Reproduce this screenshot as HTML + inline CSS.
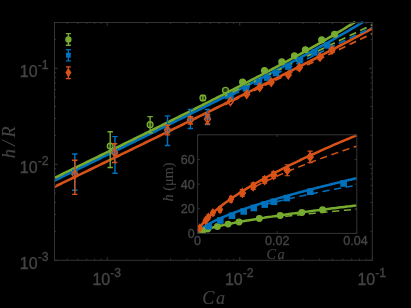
<!DOCTYPE html><html><head><meta charset="utf-8"><style>html,body{margin:0;padding:0;background:#000;}svg{display:block;font-family:"Liberation Sans",sans-serif;}text{stroke:#444;stroke-width:0.35px;}text.s{stroke-width:0.1px;}</style></head><body>
<svg width="411" height="308" viewBox="0 0 411 308">
<rect width="411" height="308" fill="#000"/>
<defs><filter id="aa" x="0" y="0" width="411" height="308" filterUnits="userSpaceOnUse"><feOffset dx="0" dy="0"/></filter></defs>
<g filter="url(#aa)">
<defs><clipPath id="cm"><rect x="54.50" y="21.30" width="318.60" height="239.00"/></clipPath><clipPath id="ci"><rect x="197.60" y="133.80" width="160.00" height="99.60"/></clipPath></defs>
<g clip-path="url(#cm)">
<path d="M54.50 186.83 L57.17 185.53 L59.84 184.24 L62.51 182.95 L65.18 181.65 L67.85 180.36 L70.52 179.06 L73.19 177.77 L75.86 176.48 L78.54 175.18 L81.21 173.89 L83.88 172.59 L86.55 171.30 L89.22 170.00 L91.89 168.71 L94.56 167.41 L97.23 166.12 L99.90 164.82 L102.57 163.52 L105.24 162.23 L107.91 160.93 L110.58 159.63 L113.25 158.34 L115.92 157.04 L118.59 155.74 L121.26 154.44 L123.94 153.15 L126.61 151.85 L129.28 150.55 L131.95 149.25 L134.62 147.95 L137.29 146.65 L139.96 145.35 L142.63 144.05 L145.30 142.75 L147.97 141.45 L150.64 140.15 L153.31 138.85 L155.98 137.55 L158.65 136.25 L161.32 134.94 L163.99 133.64 L166.66 132.34 L169.34 131.03 L172.01 129.73 L174.68 128.43 L177.35 127.12 L180.02 125.81 L182.69 124.51 L185.36 123.20 L188.03 121.89 L190.70 120.59 L193.37 119.28 L196.04 117.97 L198.71 116.66 L201.38 115.35 L204.05 114.04 L206.72 112.73 L209.39 111.42 L212.06 110.10 L214.74 108.79 L217.41 107.47 L220.08 106.16 L222.75 104.84 L225.42 103.53 L228.09 102.21 L230.76 100.89 L233.43 99.57 L236.10 98.25 L238.77 96.93 L241.44 95.61 L244.11 94.28 L246.78 92.96 L249.45 91.63 L252.12 90.30 L254.79 88.98 L257.46 87.65 L260.14 86.32 L262.81 84.98 L265.48 83.65 L268.15 82.31 L270.82 80.98 L273.49 79.64 L276.16 78.30 L278.83 76.96 L281.50 75.62 L284.17 74.27 L286.84 72.93 L289.51 71.58 L292.18 70.23 L294.85 68.87 L297.52 67.52 L300.19 66.16 L302.86 64.81 L305.54 63.44 L308.21 62.08 L310.88 60.72 L313.55 59.35 L316.22 57.98 L318.89 56.60 L321.56 55.23 L324.23 53.85 L326.90 52.46 L329.57 51.08 L332.24 49.69 L334.91 48.30 L337.58 46.90 L340.25 45.50 L342.92 44.10 L345.59 42.69 L348.26 41.28 L350.94 39.87 L353.61 38.45 L356.28 37.02 L358.95 35.60 L361.62 34.16 L364.29 32.72 L366.96 31.28 L369.63 29.83 L372.30 28.38" stroke="#d95319" stroke-width="2.60" fill="none" stroke-linecap="butt"/>
<path d="M54.50 180.55 L57.17 179.26 L59.84 177.96 L62.51 176.66 L65.18 175.36 L67.85 174.06 L70.52 172.76 L73.19 171.47 L75.86 170.17 L78.54 168.87 L81.21 167.57 L83.88 166.27 L86.55 164.97 L89.22 163.66 L91.89 162.36 L94.56 161.06 L97.23 159.76 L99.90 158.46 L102.57 157.15 L105.24 155.85 L107.91 154.55 L110.58 153.24 L113.25 151.94 L115.92 150.63 L118.59 149.33 L121.26 148.02 L123.94 146.71 L126.61 145.41 L129.28 144.10 L131.95 142.79 L134.62 141.48 L137.29 140.17 L139.96 138.86 L142.63 137.55 L145.30 136.24 L147.97 134.93 L150.64 133.62 L153.31 132.30 L155.98 130.99 L158.65 129.67 L161.32 128.36 L163.99 127.04 L166.66 125.72 L169.34 124.40 L172.01 123.08 L174.68 121.76 L177.35 120.44 L180.02 119.12 L182.69 117.79 L185.36 116.47 L188.03 115.14 L190.70 113.82 L193.37 112.49 L196.04 111.16 L198.71 109.83 L201.38 108.50 L204.05 107.16 L206.72 105.83 L209.39 104.49 L212.06 103.15 L214.74 101.81 L217.41 100.47 L220.08 99.13 L222.75 97.78 L225.42 96.44 L228.09 95.09 L230.76 93.74 L233.43 92.39 L236.10 91.03 L238.77 89.68 L241.44 88.32 L244.11 86.96 L246.78 85.59 L249.45 84.23 L252.12 82.86 L254.79 81.49 L257.46 80.11 L260.14 78.74 L262.81 77.36 L265.48 75.97 L268.15 74.59 L270.82 73.20 L273.49 71.81 L276.16 70.41 L278.83 69.01 L281.50 67.61 L284.17 66.20 L286.84 64.79 L289.51 63.38 L292.18 61.96 L294.85 60.53 L297.52 59.10 L300.19 57.67 L302.86 56.23 L305.54 54.79 L308.21 53.34 L310.88 51.88 L313.55 50.42 L316.22 48.96 L318.89 47.48 L321.56 46.00 L324.23 44.52 L326.90 43.02 L329.57 41.52 L332.24 40.01 L334.91 38.49 L337.58 36.97 L340.25 35.43 L342.92 33.89 L345.59 32.34 L348.26 30.77 L350.94 29.20 L353.61 27.61 L356.28 26.02 L358.95 24.41 L361.62 22.79 L363.06 21.90" stroke="#0072bd" stroke-width="2.60" fill="none" stroke-linecap="butt"/>
<path d="M54.50 177.89 L57.17 176.60 L59.84 175.30 L62.51 174.00 L65.18 172.70 L67.85 171.40 L70.52 170.10 L73.19 168.79 L75.86 167.49 L78.54 166.19 L81.21 164.89 L83.88 163.59 L86.55 162.28 L89.22 160.98 L91.89 159.68 L94.56 158.37 L97.23 157.07 L99.90 155.76 L102.57 154.46 L105.24 153.15 L107.91 151.84 L110.58 150.54 L113.25 149.23 L115.92 147.92 L118.59 146.61 L121.26 145.30 L123.94 143.99 L126.61 142.68 L129.28 141.37 L131.95 140.06 L134.62 138.74 L137.29 137.43 L139.96 136.11 L142.63 134.80 L145.30 133.48 L147.97 132.17 L150.64 130.85 L153.31 129.53 L155.98 128.21 L158.65 126.89 L161.32 125.57 L163.99 124.24 L166.66 122.92 L169.34 121.59 L172.01 120.27 L174.68 118.94 L177.35 117.61 L180.02 116.28 L182.69 114.95 L185.36 113.62 L188.03 112.29 L190.70 110.95 L193.37 109.61 L196.04 108.28 L198.71 106.94 L201.38 105.59 L204.05 104.25 L206.72 102.91 L209.39 101.56 L212.06 100.21 L214.74 98.86 L217.41 97.51 L220.08 96.15 L222.75 94.80 L225.42 93.44 L228.09 92.08 L230.76 90.71 L233.43 89.35 L236.10 87.98 L238.77 86.61 L241.44 85.23 L244.11 83.85 L246.78 82.47 L249.45 81.09 L252.12 79.71 L254.79 78.32 L257.46 76.92 L260.14 75.53 L262.81 74.13 L265.48 72.72 L268.15 71.32 L270.82 69.90 L273.49 68.49 L276.16 67.07 L278.83 65.64 L281.50 64.21 L284.17 62.78 L286.84 61.34 L289.51 59.89 L292.18 58.44 L294.85 56.99 L297.52 55.53 L300.19 54.06 L302.86 52.58 L305.54 51.10 L308.21 49.62 L310.88 48.12 L313.55 46.62 L316.22 45.11 L318.89 43.59 L321.56 42.06 L324.23 40.53 L326.90 38.98 L329.57 37.42 L332.24 35.86 L334.91 34.28 L337.58 32.70 L340.25 31.10 L342.92 29.49 L345.59 27.86 L348.26 26.23 L350.94 24.58 L353.61 22.91 L355.21 21.90" stroke="#77ac30" stroke-width="2.60" fill="none" stroke-linecap="butt"/>
<path d="M225.00 95.86 L227.50 94.65 L229.99 93.45 L232.49 92.24 L234.99 91.04 L237.48 89.83 L239.98 88.63 L242.48 87.42 L244.97 86.21 L247.47 85.01 L249.97 83.80 L252.46 82.60 L254.96 81.39 L257.46 80.19 L259.95 78.98 L262.45 77.78 L264.95 76.57 L267.44 75.36 L269.94 74.16 L272.44 72.95 L274.93 71.75 L277.43 70.54 L279.93 69.34 L282.42 68.13 L284.92 66.93 L287.42 65.72 L289.91 64.51 L292.41 63.31 L294.91 62.10 L297.40 60.90 L299.90 59.69 L302.39 58.49 L304.89 57.28 L307.39 56.07 L309.88 54.87 L312.38 53.66 L314.88 52.46 L317.37 51.25 L319.87 50.05 L322.37 48.84 L324.86 47.64 L327.36 46.43 L329.86 45.22 L332.35 44.02 L334.85 42.81 L337.35 41.61 L339.84 40.40 L342.34 39.20 L344.84 37.99 L347.33 36.78 L349.83 35.58 L352.33 34.37 L354.82 33.17 L357.32 31.96 L359.82 30.76 L362.31 29.55 L364.81 28.35 L367.31 27.14 L369.80 25.93 L372.30 24.73" stroke="#77ac30" stroke-width="1.75" fill="none" stroke-dasharray="7.2 4.6" stroke-dashoffset="3.3"/>
<path d="M225.00 98.47 L227.50 97.26 L229.99 96.06 L232.49 94.85 L234.99 93.64 L237.48 92.44 L239.98 91.23 L242.48 90.03 L244.97 88.82 L247.47 87.62 L249.97 86.41 L252.46 85.20 L254.96 84.00 L257.46 82.79 L259.95 81.59 L262.45 80.38 L264.95 79.18 L267.44 77.97 L269.94 76.77 L272.44 75.56 L274.93 74.35 L277.43 73.15 L279.93 71.94 L282.42 70.74 L284.92 69.53 L287.42 68.33 L289.91 67.12 L292.41 65.91 L294.91 64.71 L297.40 63.50 L299.90 62.30 L302.39 61.09 L304.89 59.89 L307.39 58.68 L309.88 57.48 L312.38 56.27 L314.88 55.06 L317.37 53.86 L319.87 52.65 L322.37 51.45 L324.86 50.24 L327.36 49.04 L329.86 47.83 L332.35 46.62 L334.85 45.42 L337.35 44.21 L339.84 43.01 L342.34 41.80 L344.84 40.60 L347.33 39.39 L349.83 38.19 L352.33 36.98 L354.82 35.77 L357.32 34.57 L359.82 33.36 L362.31 32.16 L364.81 30.95 L367.31 29.75 L369.80 28.54 L372.30 27.34" stroke="#0072bd" stroke-width="1.75" fill="none" stroke-dasharray="7.2 4.6" stroke-dashoffset="3.3"/>
<path d="M225.00 104.61 L227.50 103.41 L229.99 102.20 L232.49 101.00 L234.99 99.79 L237.48 98.59 L239.98 97.38 L242.48 96.17 L244.97 94.97 L247.47 93.76 L249.97 92.56 L252.46 91.35 L254.96 90.15 L257.46 88.94 L259.95 87.74 L262.45 86.53 L264.95 85.32 L267.44 84.12 L269.94 82.91 L272.44 81.71 L274.93 80.50 L277.43 79.30 L279.93 78.09 L282.42 76.88 L284.92 75.68 L287.42 74.47 L289.91 73.27 L292.41 72.06 L294.91 70.86 L297.40 69.65 L299.90 68.45 L302.39 67.24 L304.89 66.03 L307.39 64.83 L309.88 63.62 L312.38 62.42 L314.88 61.21 L317.37 60.01 L319.87 58.80 L322.37 57.59 L324.86 56.39 L327.36 55.18 L329.86 53.98 L332.35 52.77 L334.85 51.57 L337.35 50.36 L339.84 49.16 L342.34 47.95 L344.84 46.74 L347.33 45.54 L349.83 44.33 L352.33 43.13 L354.82 41.92 L357.32 40.72 L359.82 39.51 L362.31 38.31 L364.81 37.10 L367.31 35.89 L369.80 34.69 L372.30 33.48" stroke="#d95319" stroke-width="1.75" fill="none" stroke-dasharray="7.2 4.6" stroke-dashoffset="3.3"/>
<path d="M110.20 131.80 V167.50 M107.50 131.80 H112.90 M107.50 167.50 H112.90" stroke="#77ac30" stroke-width="1.40" fill="none"/>
<circle cx="110.20" cy="146.10" r="2.90" stroke="#77ac30" stroke-width="1.35" fill="#77ac30" fill-opacity="0.3"/>
<path d="M150.10 116.60 V132.80 M147.40 116.60 H152.80 M147.40 132.80 H152.80" stroke="#77ac30" stroke-width="1.40" fill="none"/>
<circle cx="150.10" cy="124.70" r="2.90" stroke="#77ac30" stroke-width="1.35" fill="#77ac30" fill-opacity="0.3"/>
<path d="M202.90 95.50 V100.50 M200.20 95.50 H205.60 M200.20 100.50 H205.60" stroke="#77ac30" stroke-width="1.40" fill="none"/>
<circle cx="202.90" cy="98.00" r="2.90" stroke="#77ac30" stroke-width="1.35" fill="#77ac30" fill-opacity="0.3"/>
<circle cx="225.50" cy="90.30" r="2.90" stroke="#77ac30" stroke-width="1.35" fill="#77ac30" fill-opacity="0.3"/>
<circle cx="242.60" cy="82.00" r="2.90" stroke="#77ac30" stroke-width="1.35" fill="#77ac30" fill-opacity="1"/>
<circle cx="264.50" cy="70.50" r="2.90" stroke="#77ac30" stroke-width="1.35" fill="#77ac30" fill-opacity="1"/>
<circle cx="281.80" cy="61.90" r="2.90" stroke="#77ac30" stroke-width="1.35" fill="#77ac30" fill-opacity="1"/>
<circle cx="294.50" cy="55.70" r="2.90" stroke="#77ac30" stroke-width="1.35" fill="#77ac30" fill-opacity="1"/>
<circle cx="305.40" cy="49.70" r="2.90" stroke="#77ac30" stroke-width="1.35" fill="#77ac30" fill-opacity="1"/>
<circle cx="321.70" cy="39.90" r="2.90" stroke="#77ac30" stroke-width="1.35" fill="#77ac30" fill-opacity="1"/>
<circle cx="334.60" cy="34.20" r="2.90" stroke="#77ac30" stroke-width="1.35" fill="#77ac30" fill-opacity="1"/>
<path d="M74.80 154.00 V190.30 M72.10 154.00 H77.50 M72.10 190.30 H77.50" stroke="#0072bd" stroke-width="1.40" fill="none"/>
<rect x="72.70" y="170.10" width="4.20" height="4.20" fill="#0072bd" stroke="#0072bd" stroke-width="1.40"/>
<path d="M115.00 136.60 V173.20 M112.30 136.60 H117.70 M112.30 173.20 H117.70" stroke="#0072bd" stroke-width="1.40" fill="none"/>
<rect x="112.90" y="149.90" width="4.20" height="4.20" fill="#0072bd" stroke="#0072bd" stroke-width="1.40"/>
<path d="M167.50 115.90 V145.50 M164.80 115.90 H170.20 M164.80 145.50 H170.20" stroke="#0072bd" stroke-width="1.40" fill="none"/>
<rect x="165.40" y="128.60" width="4.20" height="4.20" fill="#0072bd" stroke="#0072bd" stroke-width="1.40"/>
<path d="M190.40 109.40 V128.50 M187.70 109.40 H193.10 M187.70 128.50 H193.10" stroke="#0072bd" stroke-width="1.40" fill="none"/>
<rect x="188.30" y="116.90" width="4.20" height="4.20" fill="#0072bd" stroke="#0072bd" stroke-width="1.40"/>
<path d="M207.50 109.40 V124.50 M204.80 109.40 H210.20 M204.80 124.50 H210.20" stroke="#0072bd" stroke-width="1.40" fill="none"/>
<rect x="205.40" y="114.90" width="4.20" height="4.20" fill="#0072bd" stroke="#0072bd" stroke-width="1.40"/>
<rect x="228.00" y="93.97" width="5.00" height="5.00" fill="#0072bd" stroke="#0072bd" stroke-width="1.40"/>
<rect x="243.50" y="86.09" width="5.00" height="5.00" fill="#0072bd" stroke="#0072bd" stroke-width="1.40"/>
<rect x="256.50" y="79.42" width="5.00" height="5.00" fill="#0072bd" stroke="#0072bd" stroke-width="1.40"/>
<rect x="264.70" y="75.18" width="5.00" height="5.00" fill="#0072bd" stroke="#0072bd" stroke-width="1.40"/>
<rect x="273.50" y="70.60" width="5.00" height="5.00" fill="#0072bd" stroke="#0072bd" stroke-width="1.40"/>
<rect x="285.80" y="64.12" width="5.00" height="5.00" fill="#0072bd" stroke="#0072bd" stroke-width="1.40"/>
<rect x="297.50" y="57.87" width="5.00" height="5.00" fill="#0072bd" stroke="#0072bd" stroke-width="1.40"/>
<rect x="311.90" y="50.05" width="5.00" height="5.00" fill="#0072bd" stroke="#0072bd" stroke-width="1.40"/>
<rect x="324.80" y="42.90" width="5.00" height="5.00" fill="#0072bd" stroke="#0072bd" stroke-width="1.40"/>
<path d="M74.80 160.20 V194.40 M72.10 160.20 H77.50 M72.10 194.40 H77.50" stroke="#d95319" stroke-width="1.40" fill="none"/>
<path d="M74.80 170.20 L77.80 174.30 L74.80 178.40 L71.80 174.30 Z" fill="none" stroke="#d95319" stroke-width="1.40" stroke-linejoin="miter"/>
<path d="M114.60 143.80 V162.50 M111.90 143.80 H117.30 M111.90 162.50 H117.30" stroke="#d95319" stroke-width="1.40" fill="none"/>
<path d="M114.60 148.60 L117.60 152.70 L114.60 156.80 L111.60 152.70 Z" fill="none" stroke="#d95319" stroke-width="1.40" stroke-linejoin="miter"/>
<path d="M167.50 125.20 V134.90 M164.80 125.20 H170.20 M164.80 134.90 H170.20" stroke="#d95319" stroke-width="1.40" fill="none"/>
<path d="M167.50 125.90 L170.50 130.00 L167.50 134.10 L164.50 130.00 Z" fill="none" stroke="#d95319" stroke-width="1.40" stroke-linejoin="miter"/>
<path d="M190.40 116.70 V124.00 M187.70 116.70 H193.10 M187.70 124.00 H193.10" stroke="#d95319" stroke-width="1.40" fill="none"/>
<path d="M190.40 115.80 L193.40 119.90 L190.40 124.00 L187.40 119.90 Z" fill="none" stroke="#d95319" stroke-width="1.40" stroke-linejoin="miter"/>
<path d="M207.50 114.20 V124.00 M204.80 114.20 H210.20 M204.80 124.00 H210.20" stroke="#d95319" stroke-width="1.40" fill="none"/>
<path d="M207.50 115.00 L210.50 119.10 L207.50 123.20 L204.50 119.10 Z" fill="none" stroke="#d95319" stroke-width="1.40" stroke-linejoin="miter"/>
<path d="M230.40 97.50 L233.30 101.50 L230.40 105.50 L227.50 101.50 Z" fill="none" stroke="#d95319" stroke-width="1.40" stroke-linejoin="miter"/>
<path d="M246.70 90.20 L249.60 94.20 L246.70 98.20 L243.80 94.20 Z" fill="#d95319" stroke="#d95319" stroke-width="1.40" stroke-linejoin="miter"/>
<path d="M259.70 83.20 L262.60 87.20 L259.70 91.20 L256.80 87.20 Z" fill="#d95319" stroke="#d95319" stroke-width="1.40" stroke-linejoin="miter"/>
<path d="M271.20 78.20 L274.10 82.20 L271.20 86.20 L268.30 82.20 Z" fill="#d95319" stroke="#d95319" stroke-width="1.40" stroke-linejoin="miter"/>
<path d="M288.30 70.90 L291.20 74.90 L288.30 78.90 L285.40 74.90 Z" fill="#d95319" stroke="#d95319" stroke-width="1.40" stroke-linejoin="miter"/>
<path d="M299.40 63.50 L302.30 67.50 L299.40 71.50 L296.50 67.50 Z" fill="#d95319" stroke="#d95319" stroke-width="1.40" stroke-linejoin="miter"/>
<path d="M320.00 53.00 L322.90 57.00 L320.00 61.00 L317.10 57.00 Z" fill="#d95319" stroke="#d95319" stroke-width="1.40" stroke-linejoin="miter"/>
<path d="M332.00 46.00 L334.90 50.00 L332.00 54.00 L329.10 50.00 Z" fill="#d95319" stroke="#d95319" stroke-width="1.40" stroke-linejoin="miter"/>
</g>
<path d="M68.40 33.60 V45.20 M65.90 33.60 H70.90 M65.90 45.20 H70.90" stroke="#77ac30" stroke-width="1.40" fill="none"/>
<circle cx="68.40" cy="39.50" r="2.50" stroke="#77ac30" stroke-width="1.35" fill="#77ac30" fill-opacity="1"/>
<path d="M68.40 49.60 V60.90 M65.90 49.60 H70.90 M65.90 60.90 H70.90" stroke="#0072bd" stroke-width="1.40" fill="none"/>
<rect x="66.70" y="53.50" width="3.40" height="3.40" fill="#0072bd" stroke="#0072bd" stroke-width="1.40"/>
<path d="M68.40 66.90 V78.60 M65.90 66.90 H70.90 M65.90 78.60 H70.90" stroke="#d95319" stroke-width="1.40" fill="none"/>
<path d="M68.40 69.30 L70.60 72.60 L68.40 75.90 L66.20 72.60 Z" fill="#d95319" stroke="#d95319" stroke-width="1.40" stroke-linejoin="miter"/>
<rect x="54.50" y="22.50" width="317.80" height="237.80" fill="none" stroke="#343434" stroke-width="1"/>
<path d="M54.50 260.30 v-1.70 M54.50 22.50 v1.70 M67.34 260.30 v-1.70 M67.34 22.50 v1.70 M77.84 260.30 v-1.70 M77.84 22.50 v1.70 M86.71 260.30 v-1.70 M86.71 22.50 v1.70 M94.40 260.30 v-1.70 M94.40 22.50 v1.70 M101.17 260.30 v-1.70 M101.17 22.50 v1.70 M107.24 260.30 v-3.20 M107.24 22.50 v3.20 M147.13 260.30 v-1.70 M147.13 22.50 v1.70 M170.47 260.30 v-1.70 M170.47 22.50 v1.70 M187.03 260.30 v-1.70 M187.03 22.50 v1.70 M199.87 260.30 v-1.70 M199.87 22.50 v1.70 M210.37 260.30 v-1.70 M210.37 22.50 v1.70 M219.24 260.30 v-1.70 M219.24 22.50 v1.70 M226.93 260.30 v-1.70 M226.93 22.50 v1.70 M233.71 260.30 v-1.70 M233.71 22.50 v1.70 M239.77 260.30 v-3.20 M239.77 22.50 v3.20 M279.67 260.30 v-1.70 M279.67 22.50 v1.70 M303.00 260.30 v-1.70 M303.00 22.50 v1.70 M319.56 260.30 v-1.70 M319.56 22.50 v1.70 M332.40 260.30 v-1.70 M332.40 22.50 v1.70 M342.90 260.30 v-1.70 M342.90 22.50 v1.70 M351.77 260.30 v-1.70 M351.77 22.50 v1.70 M359.46 260.30 v-1.70 M359.46 22.50 v1.70 M366.24 260.30 v-1.70 M366.24 22.50 v1.70 M372.30 260.30 v-3.20 M372.30 22.50 v3.20 M54.50 260.30 h3.20 M372.30 260.30 h-3.20 M54.50 231.40 h1.70 M372.30 231.40 h-1.70 M54.50 214.50 h1.70 M372.30 214.50 h-1.70 M54.50 202.50 h1.70 M372.30 202.50 h-1.70 M54.50 193.20 h1.70 M372.30 193.20 h-1.70 M54.50 185.60 h1.70 M372.30 185.60 h-1.70 M54.50 179.17 h1.70 M372.30 179.17 h-1.70 M54.50 173.60 h1.70 M372.30 173.60 h-1.70 M54.50 168.69 h1.70 M372.30 168.69 h-1.70 M54.50 164.30 h3.20 M372.30 164.30 h-3.20 M54.50 135.40 h1.70 M372.30 135.40 h-1.70 M54.50 118.50 h1.70 M372.30 118.50 h-1.70 M54.50 106.50 h1.70 M372.30 106.50 h-1.70 M54.50 97.20 h1.70 M372.30 97.20 h-1.70 M54.50 89.60 h1.70 M372.30 89.60 h-1.70 M54.50 83.17 h1.70 M372.30 83.17 h-1.70 M54.50 77.61 h1.70 M372.30 77.61 h-1.70 M54.50 72.70 h1.70 M372.30 72.70 h-1.70 M54.50 68.30 h3.20 M372.30 68.30 h-3.20 M54.50 39.40 h1.70 M372.30 39.40 h-1.70 M54.50 22.50 h1.70 M372.30 22.50 h-1.70" stroke="#343434" stroke-width="1" fill="none"/>
<text x="106.74" y="284.60" fill="#444" font-size="16.0" text-anchor="middle">10<tspan font-size="12.2" dy="-7.6">-3</tspan></text>
<text x="48.50" y="268.90" fill="#444" font-size="16.0" text-anchor="end">10<tspan font-size="12.2" dy="-8.4">-3</tspan></text>
<text x="239.27" y="284.60" fill="#444" font-size="16.0" text-anchor="middle">10<tspan font-size="12.2" dy="-7.6">-2</tspan></text>
<text x="48.50" y="172.90" fill="#444" font-size="16.0" text-anchor="end">10<tspan font-size="12.2" dy="-8.4">-2</tspan></text>
<text x="371.80" y="284.60" fill="#444" font-size="16.0" text-anchor="middle">10<tspan font-size="12.2" dy="-7.6">-1</tspan></text>
<text x="48.50" y="76.90" fill="#444" font-size="16.0" text-anchor="end">10<tspan font-size="12.2" dy="-8.4">-1</tspan></text>
<text x="214.40" y="304.30" fill="#444" class="s" font-family="Liberation Serif" font-style="italic" font-size="18.2" text-anchor="middle" letter-spacing="1.6">Ca</text>
<text transform="translate(14.60 140.60) rotate(-90)" fill="#444" class="s" font-family="Liberation Serif" font-style="italic" font-size="18.2" text-anchor="middle" letter-spacing="3.4">h/R</text>
<g clip-path="url(#ci)">
<path d="M285.22 216.41 L285.48 216.38 L285.74 216.35 L286.00 216.32 L286.26 216.29 L286.52 216.26 L286.78 216.23 L287.04 216.20 L287.29 216.17 L287.55 216.14 L287.81 216.11 L288.07 216.08 L288.33 216.05 L288.59 216.02 L288.85 215.99 L289.11 215.96 L289.37 215.93 L289.63 215.90 L289.89 215.87 L290.15 215.84 L290.41 215.81 L290.67 215.78 L290.93 215.75 L291.18 215.72 L291.44 215.69 L291.70 215.66 L291.96 215.63 L292.22 215.60 L292.48 215.57 L292.74 215.54 L293.00 215.51 L293.26 215.49 L293.52 215.46 L293.78 215.43 L294.04 215.40 L294.30 215.37 L294.56 215.34 L294.82 215.31 L295.08 215.28 L295.33 215.25 L295.59 215.22 L295.85 215.20 L296.11 215.17 L296.37 215.14 L296.63 215.11 L296.89 215.08 L297.15 215.05 L297.41 215.02 L297.67 215.00 L297.93 214.97 L298.19 214.94 L298.45 214.91 L298.71 214.88 L298.97 214.85 L299.22 214.83 L299.48 214.80 L299.74 214.77 L300.00 214.74 L300.26 214.71 L300.52 214.68 L300.78 214.66 L301.04 214.63 L301.30 214.60 L301.56 214.57 L301.82 214.54 L302.08 214.52 L302.34 214.49 L302.60 214.46 L302.86 214.43 L303.11 214.40 L303.37 214.38 L303.63 214.35 L303.89 214.32 L304.15 214.29 L304.41 214.27 L304.67 214.24 L304.93 214.21 L305.19 214.18 L305.45 214.16 L305.71 214.13 L305.97 214.10 L306.23 214.07 L306.49 214.05 L306.75 214.02 L307.01 213.99 L307.26 213.96 L307.52 213.94 L307.78 213.91 L308.04 213.88 L308.30 213.85 L308.56 213.83 L308.82 213.80 L309.08 213.77 L309.34 213.75 L309.60 213.72 L309.86 213.69 L310.12 213.66 L310.38 213.64 L310.64 213.61 L310.90 213.58 L311.15 213.56 L311.41 213.53 L311.67 213.50 L311.93 213.48 L312.19 213.45 L312.45 213.42 L312.71 213.40 L312.97 213.37 L313.23 213.34 L313.49 213.32 L313.75 213.29 L314.01 213.26 L314.27 213.24 L314.53 213.21 L314.79 213.18 L315.04 213.16 L315.30 213.13 L315.56 213.10 L315.82 213.08 L316.08 213.05 L316.34 213.03 L316.60 213.00 L316.86 212.97 L317.12 212.95 L317.38 212.92 L317.64 212.89 L317.90 212.87 L318.16 212.84 L318.42 212.82 L318.68 212.79 L318.94 212.76 L319.19 212.74 L319.45 212.71 L319.71 212.69 L319.97 212.66 L320.23 212.63 L320.49 212.61 L320.75 212.58 L321.01 212.56 L321.27 212.53 L321.53 212.51 L321.79 212.48 L322.05 212.45 L322.31 212.43 L322.57 212.40 L322.83 212.38 L323.08 212.35 L323.34 212.33 L323.60 212.30 L323.86 212.28 L324.12 212.25 L324.38 212.22 L324.64 212.20 L324.90 212.17 L325.16 212.15 L325.42 212.12 L325.68 212.10 L325.94 212.07 L326.20 212.05 L326.46 212.02 L326.72 212.00 L326.97 211.97 L327.23 211.95 L327.49 211.92 L327.75 211.90 L328.01 211.87 L328.27 211.85 L328.53 211.82 L328.79 211.80 L329.05 211.77 L329.31 211.75 L329.57 211.72 L329.83 211.70 L330.09 211.67 L330.35 211.65 L330.61 211.62 L330.87 211.60 L331.12 211.57 L331.38 211.55 L331.64 211.52 L331.90 211.50 L332.16 211.47 L332.42 211.45 L332.68 211.42 L332.94 211.40 L333.20 211.37 L333.46 211.35 L333.72 211.32 L333.98 211.30 L334.24 211.27 L334.50 211.25 L334.76 211.23 L335.01 211.20 L335.27 211.18 L335.53 211.15 L335.79 211.13 L336.05 211.10 L336.31 211.08 L336.57 211.06 L336.83 211.03 L337.09 211.01 L337.35 210.98 L337.61 210.96 L337.87 210.93 L338.13 210.91 L338.39 210.89 L338.65 210.86 L338.90 210.84 L339.16 210.81 L339.42 210.79 L339.68 210.76 L339.94 210.74 L340.20 210.72 L340.46 210.69 L340.72 210.67 L340.98 210.64 L341.24 210.62 L341.50 210.60 L341.76 210.57 L342.02 210.55 L342.28 210.53 L342.54 210.50 L342.80 210.48 L343.05 210.45 L343.31 210.43 L343.57 210.41 L343.83 210.38 L344.09 210.36 L344.35 210.34 L344.61 210.31 L344.87 210.29 L345.13 210.26 L345.39 210.24 L345.65 210.22 L345.91 210.19 L346.17 210.17 L346.43 210.15 L346.69 210.12 L346.94 210.10 L347.20 210.08 L347.46 210.05 L347.72 210.03 L347.98 210.01 L348.24 209.98 L348.50 209.96 L348.76 209.94 L349.02 209.91 L349.28 209.89 L349.54 209.87 L349.80 209.84 L350.06 209.82 L350.32 209.80 L350.58 209.77 L350.83 209.75 L351.09 209.73 L351.35 209.70 L351.61 209.68 L351.87 209.66 L352.13 209.63 L352.39 209.61 L352.65 209.59 L352.91 209.57 L353.17 209.54 L353.43 209.52 L353.69 209.50 L353.95 209.47 L354.21 209.45 L354.47 209.43 L354.73 209.41 L354.98 209.38 L355.24 209.36 L355.50 209.34 L355.76 209.31 L356.02 209.29 L356.28 209.27 L356.54 209.25 L356.80 209.22" stroke="#77ac30" stroke-width="1.50" fill="none" stroke-dasharray="7.2 4.6" stroke-dashoffset="35.46"/>
<path d="M197.60 233.40 L199.21 232.09 L200.82 231.33 L202.42 230.68 L204.03 230.11 L205.64 229.58 L207.25 229.09 L208.86 228.62 L210.46 228.17 L212.07 227.75 L213.68 227.33 L215.29 226.94 L216.90 226.55 L218.51 226.18 L220.11 225.81 L221.72 225.45 L223.33 225.10 L224.94 224.76 L226.55 224.42 L228.15 224.10 L229.76 223.77 L231.37 223.45 L232.98 223.14 L234.59 222.83 L236.19 222.53 L237.80 222.23 L239.41 221.93 L241.02 221.64 L242.63 221.35 L244.23 221.07 L245.84 220.78 L247.45 220.50 L249.06 220.23 L250.67 219.96 L252.27 219.69 L253.88 219.42 L255.49 219.15 L257.10 218.89 L258.71 218.63 L260.32 218.37 L261.92 218.12 L263.53 217.86 L265.14 217.61 L266.75 217.36 L268.36 217.11 L269.96 216.87 L271.57 216.62 L273.18 216.38 L274.79 216.14 L276.40 215.90 L278.00 215.66 L279.61 215.43 L281.22 215.19 L282.83 214.96 L284.44 214.73 L286.04 214.50 L287.65 214.27 L289.26 214.05 L290.87 213.82 L292.48 213.60 L294.08 213.37 L295.69 213.15 L297.30 212.93 L298.91 212.71 L300.52 212.49 L302.13 212.27 L303.73 212.06 L305.34 211.84 L306.95 211.63 L308.56 211.42 L310.17 211.20 L311.77 210.99 L313.38 210.78 L314.99 210.57 L316.60 210.37 L318.21 210.16 L319.81 209.95 L321.42 209.75 L323.03 209.54 L324.64 209.34 L326.25 209.14 L327.85 208.94 L329.46 208.74 L331.07 208.53 L332.68 208.34 L334.29 208.14 L335.89 207.94 L337.50 207.74 L339.11 207.55 L340.72 207.35 L342.33 207.16 L343.94 206.96 L345.54 206.77 L347.15 206.58 L348.76 206.38 L350.37 206.19 L351.98 206.00 L353.58 205.81 L355.19 205.62 L356.80 205.43" stroke="#77ac30" stroke-width="2.50" fill="none"/>
<path d="M265.47 204.50 L265.75 204.43 L266.03 204.35 L266.31 204.28 L266.59 204.21 L266.87 204.14 L267.15 204.06 L267.42 203.99 L267.70 203.92 L267.98 203.85 L268.26 203.77 L268.54 203.70 L268.82 203.63 L269.10 203.56 L269.38 203.49 L269.66 203.42 L269.94 203.34 L270.22 203.27 L270.50 203.20 L270.78 203.13 L271.06 203.06 L271.33 202.99 L271.61 202.92 L271.89 202.85 L272.17 202.78 L272.45 202.71 L272.73 202.64 L273.01 202.57 L273.29 202.50 L273.57 202.43 L273.85 202.36 L274.13 202.29 L274.41 202.22 L274.69 202.15 L274.97 202.08 L275.24 202.01 L275.52 201.94 L275.80 201.87 L276.08 201.81 L276.36 201.74 L276.64 201.67 L276.92 201.60 L277.20 201.53 L277.48 201.46 L277.76 201.39 L278.04 201.33 L278.32 201.26 L278.60 201.19 L278.88 201.12 L279.16 201.06 L279.43 200.99 L279.71 200.92 L279.99 200.85 L280.27 200.79 L280.55 200.72 L280.83 200.65 L281.11 200.58 L281.39 200.52 L281.67 200.45 L281.95 200.38 L282.23 200.32 L282.51 200.25 L282.79 200.19 L283.07 200.12 L283.34 200.05 L283.62 199.99 L283.90 199.92 L284.18 199.86 L284.46 199.79 L284.74 199.72 L285.02 199.66 L285.30 199.59 L285.58 199.53 L285.86 199.46 L286.14 199.40 L286.42 199.33 L286.70 199.27 L286.98 199.20 L287.25 199.14 L287.53 199.07 L287.81 199.01 L288.09 198.94 L288.37 198.88 L288.65 198.81 L288.93 198.75 L289.21 198.69 L289.49 198.62 L289.77 198.56 L290.05 198.49 L290.33 198.43 L290.61 198.37 L290.89 198.30 L291.16 198.24 L291.44 198.18 L291.72 198.11 L292.00 198.05 L292.28 197.99 L292.56 197.92 L292.84 197.86 L293.12 197.80 L293.40 197.73 L293.68 197.67 L293.96 197.61 L294.24 197.55 L294.52 197.48 L294.80 197.42 L295.08 197.36 L295.35 197.30 L295.63 197.23 L295.91 197.17 L296.19 197.11 L296.47 197.05 L296.75 196.99 L297.03 196.92 L297.31 196.86 L297.59 196.80 L297.87 196.74 L298.15 196.68 L298.43 196.62 L298.71 196.56 L298.99 196.49 L299.26 196.43 L299.54 196.37 L299.82 196.31 L300.10 196.25 L300.38 196.19 L300.66 196.13 L300.94 196.07 L301.22 196.01 L301.50 195.95 L301.78 195.89 L302.06 195.83 L302.34 195.77 L302.62 195.71 L302.90 195.64 L303.17 195.58 L303.45 195.52 L303.73 195.46 L304.01 195.40 L304.29 195.35 L304.57 195.29 L304.85 195.23 L305.13 195.17 L305.41 195.11 L305.69 195.05 L305.97 194.99 L306.25 194.93 L306.53 194.87 L306.81 194.81 L307.08 194.75 L307.36 194.69 L307.64 194.63 L307.92 194.57 L308.20 194.52 L308.48 194.46 L308.76 194.40 L309.04 194.34 L309.32 194.28 L309.60 194.22 L309.88 194.16 L310.16 194.11 L310.44 194.05 L310.72 193.99 L311.00 193.93 L311.27 193.87 L311.55 193.81 L311.83 193.76 L312.11 193.70 L312.39 193.64 L312.67 193.58 L312.95 193.53 L313.23 193.47 L313.51 193.41 L313.79 193.35 L314.07 193.30 L314.35 193.24 L314.63 193.18 L314.91 193.12 L315.18 193.07 L315.46 193.01 L315.74 192.95 L316.02 192.90 L316.30 192.84 L316.58 192.78 L316.86 192.73 L317.14 192.67 L317.42 192.61 L317.70 192.56 L317.98 192.50 L318.26 192.44 L318.54 192.39 L318.82 192.33 L319.09 192.27 L319.37 192.22 L319.65 192.16 L319.93 192.11 L320.21 192.05 L320.49 191.99 L320.77 191.94 L321.05 191.88 L321.33 191.83 L321.61 191.77 L321.89 191.71 L322.17 191.66 L322.45 191.60 L322.73 191.55 L323.00 191.49 L323.28 191.44 L323.56 191.38 L323.84 191.33 L324.12 191.27 L324.40 191.22 L324.68 191.16 L324.96 191.11 L325.24 191.05 L325.52 191.00 L325.80 190.94 L326.08 190.89 L326.36 190.83 L326.64 190.78 L326.92 190.72 L327.19 190.67 L327.47 190.61 L327.75 190.56 L328.03 190.51 L328.31 190.45 L328.59 190.40 L328.87 190.34 L329.15 190.29 L329.43 190.23 L329.71 190.18 L329.99 190.13 L330.27 190.07 L330.55 190.02 L330.83 189.96 L331.10 189.91 L331.38 189.86 L331.66 189.80 L331.94 189.75 L332.22 189.70 L332.50 189.64 L332.78 189.59 L333.06 189.54 L333.34 189.48 L333.62 189.43 L333.90 189.38 L334.18 189.32 L334.46 189.27 L334.74 189.22 L335.01 189.16 L335.29 189.11 L335.57 189.06 L335.85 189.01 L336.13 188.95 L336.41 188.90 L336.69 188.85 L336.97 188.79 L337.25 188.74 L337.53 188.69 L337.81 188.64 L338.09 188.58 L338.37 188.53 L338.65 188.48 L338.92 188.43 L339.20 188.38 L339.48 188.32 L339.76 188.27 L340.04 188.22 L340.32 188.17 L340.60 188.12 L340.88 188.06 L341.16 188.01 L341.44 187.96 L341.72 187.91 L342.00 187.86 L342.28 187.80 L342.56 187.75 L342.84 187.70 L343.11 187.65 L343.39 187.60 L343.67 187.55 L343.95 187.50 L344.23 187.44 L344.51 187.39 L344.79 187.34 L345.07 187.29 L345.35 187.24 L345.63 187.19 L345.91 187.14 L346.19 187.09 L346.47 187.03 L346.75 186.98 L347.02 186.93 L347.30 186.88 L347.58 186.83 L347.86 186.78 L348.14 186.73 L348.42 186.68 L348.70 186.63 L348.98 186.58 L349.26 186.53 L349.54 186.48 L349.82 186.43 L350.10 186.38 L350.38 186.33 L350.66 186.28 L350.93 186.23 L351.21 186.18 L351.49 186.13 L351.77 186.08 L352.05 186.03 L352.33 185.98 L352.61 185.93 L352.89 185.88 L353.17 185.83 L353.45 185.78 L353.73 185.73 L354.01 185.68 L354.29 185.63 L354.57 185.58 L354.84 185.53 L355.12 185.48 L355.40 185.43 L355.68 185.38 L355.96 185.33 L356.24 185.28 L356.52 185.23 L356.80 185.18" stroke="#0072bd" stroke-width="1.50" fill="none" stroke-dasharray="7.2 4.6" stroke-dashoffset="24.19"/>
<path d="M197.60 233.40 L199.21 230.82 L200.82 229.30 L202.42 228.03 L204.03 226.90 L205.64 225.86 L207.25 224.88 L208.86 223.96 L210.46 223.08 L212.07 222.24 L213.68 221.43 L215.29 220.64 L216.90 219.88 L218.51 219.14 L220.11 218.41 L221.72 217.71 L223.33 217.02 L224.94 216.34 L226.55 215.68 L228.15 215.03 L229.76 214.39 L231.37 213.76 L232.98 213.14 L234.59 212.53 L236.19 211.93 L237.80 211.34 L239.41 210.76 L241.02 210.18 L242.63 209.61 L244.23 209.05 L245.84 208.49 L247.45 207.94 L249.06 207.40 L250.67 206.86 L252.27 206.32 L253.88 205.80 L255.49 205.27 L257.10 204.75 L258.71 204.24 L260.32 203.73 L261.92 203.23 L263.53 202.72 L265.14 202.23 L266.75 201.73 L268.36 201.25 L269.96 200.76 L271.57 200.28 L273.18 199.80 L274.79 199.33 L276.40 198.85 L278.00 198.39 L279.61 197.92 L281.22 197.46 L282.83 197.00 L284.44 196.54 L286.04 196.09 L287.65 195.64 L289.26 195.19 L290.87 194.74 L292.48 194.30 L294.08 193.86 L295.69 193.42 L297.30 192.99 L298.91 192.55 L300.52 192.12 L302.13 191.69 L303.73 191.27 L305.34 190.84 L306.95 190.42 L308.56 190.00 L310.17 189.58 L311.77 189.16 L313.38 188.75 L314.99 188.34 L316.60 187.93 L318.21 187.52 L319.81 187.11 L321.42 186.71 L323.03 186.30 L324.64 185.90 L326.25 185.50 L327.85 185.10 L329.46 184.71 L331.07 184.31 L332.68 183.92 L334.29 183.53 L335.89 183.13 L337.50 182.75 L339.11 182.36 L340.72 181.97 L342.33 181.59 L343.94 181.20 L345.54 180.82 L347.15 180.44 L348.76 180.06 L350.37 179.69 L351.98 179.31 L353.58 178.94 L355.19 178.56 L356.80 178.19" stroke="#0072bd" stroke-width="2.50" fill="none"/>
<path d="M253.56 187.37 L253.86 187.22 L254.16 187.07 L254.46 186.91 L254.76 186.76 L255.06 186.61 L255.35 186.45 L255.65 186.30 L255.95 186.15 L256.25 186.00 L256.55 185.85 L256.85 185.70 L257.15 185.54 L257.45 185.39 L257.75 185.24 L258.05 185.09 L258.35 184.94 L258.65 184.80 L258.95 184.65 L259.25 184.50 L259.54 184.35 L259.84 184.20 L260.14 184.05 L260.44 183.91 L260.74 183.76 L261.04 183.61 L261.34 183.47 L261.64 183.32 L261.94 183.17 L262.24 183.03 L262.54 182.88 L262.84 182.74 L263.14 182.59 L263.43 182.45 L263.73 182.31 L264.03 182.16 L264.33 182.02 L264.63 181.87 L264.93 181.73 L265.23 181.59 L265.53 181.45 L265.83 181.30 L266.13 181.16 L266.43 181.02 L266.73 180.88 L267.03 180.74 L267.32 180.60 L267.62 180.45 L267.92 180.31 L268.22 180.17 L268.52 180.03 L268.82 179.89 L269.12 179.75 L269.42 179.62 L269.72 179.48 L270.02 179.34 L270.32 179.20 L270.62 179.06 L270.92 178.92 L271.22 178.78 L271.51 178.65 L271.81 178.51 L272.11 178.37 L272.41 178.24 L272.71 178.10 L273.01 177.96 L273.31 177.83 L273.61 177.69 L273.91 177.55 L274.21 177.42 L274.51 177.28 L274.81 177.15 L275.11 177.01 L275.40 176.88 L275.70 176.75 L276.00 176.61 L276.30 176.48 L276.60 176.34 L276.90 176.21 L277.20 176.08 L277.50 175.94 L277.80 175.81 L278.10 175.68 L278.40 175.55 L278.70 175.41 L279.00 175.28 L279.29 175.15 L279.59 175.02 L279.89 174.89 L280.19 174.76 L280.49 174.62 L280.79 174.49 L281.09 174.36 L281.39 174.23 L281.69 174.10 L281.99 173.97 L282.29 173.84 L282.59 173.71 L282.89 173.58 L283.18 173.46 L283.48 173.33 L283.78 173.20 L284.08 173.07 L284.38 172.94 L284.68 172.81 L284.98 172.68 L285.28 172.56 L285.58 172.43 L285.88 172.30 L286.18 172.17 L286.48 172.05 L286.78 171.92 L287.08 171.79 L287.37 171.67 L287.67 171.54 L287.97 171.41 L288.27 171.29 L288.57 171.16 L288.87 171.04 L289.17 170.91 L289.47 170.79 L289.77 170.66 L290.07 170.54 L290.37 170.41 L290.67 170.29 L290.97 170.16 L291.26 170.04 L291.56 169.92 L291.86 169.79 L292.16 169.67 L292.46 169.54 L292.76 169.42 L293.06 169.30 L293.36 169.18 L293.66 169.05 L293.96 168.93 L294.26 168.81 L294.56 168.69 L294.86 168.56 L295.15 168.44 L295.45 168.32 L295.75 168.20 L296.05 168.08 L296.35 167.96 L296.65 167.83 L296.95 167.71 L297.25 167.59 L297.55 167.47 L297.85 167.35 L298.15 167.23 L298.45 167.11 L298.75 166.99 L299.05 166.87 L299.34 166.75 L299.64 166.63 L299.94 166.51 L300.24 166.39 L300.54 166.27 L300.84 166.16 L301.14 166.04 L301.44 165.92 L301.74 165.80 L302.04 165.68 L302.34 165.56 L302.64 165.45 L302.94 165.33 L303.23 165.21 L303.53 165.09 L303.83 164.98 L304.13 164.86 L304.43 164.74 L304.73 164.62 L305.03 164.51 L305.33 164.39 L305.63 164.27 L305.93 164.16 L306.23 164.04 L306.53 163.93 L306.83 163.81 L307.12 163.69 L307.42 163.58 L307.72 163.46 L308.02 163.35 L308.32 163.23 L308.62 163.12 L308.92 163.00 L309.22 162.89 L309.52 162.77 L309.82 162.66 L310.12 162.54 L310.42 162.43 L310.72 162.32 L311.02 162.20 L311.31 162.09 L311.61 161.97 L311.91 161.86 L312.21 161.75 L312.51 161.63 L312.81 161.52 L313.11 161.41 L313.41 161.30 L313.71 161.18 L314.01 161.07 L314.31 160.96 L314.61 160.85 L314.91 160.73 L315.20 160.62 L315.50 160.51 L315.80 160.40 L316.10 160.29 L316.40 160.17 L316.70 160.06 L317.00 159.95 L317.30 159.84 L317.60 159.73 L317.90 159.62 L318.20 159.51 L318.50 159.40 L318.80 159.29 L319.09 159.18 L319.39 159.07 L319.69 158.96 L319.99 158.85 L320.29 158.74 L320.59 158.63 L320.89 158.52 L321.19 158.41 L321.49 158.30 L321.79 158.19 L322.09 158.08 L322.39 157.97 L322.69 157.86 L322.98 157.75 L323.28 157.64 L323.58 157.53 L323.88 157.43 L324.18 157.32 L324.48 157.21 L324.78 157.10 L325.08 156.99 L325.38 156.89 L325.68 156.78 L325.98 156.67 L326.28 156.56 L326.58 156.45 L326.88 156.35 L327.17 156.24 L327.47 156.13 L327.77 156.03 L328.07 155.92 L328.37 155.81 L328.67 155.71 L328.97 155.60 L329.27 155.49 L329.57 155.39 L329.87 155.28 L330.17 155.18 L330.47 155.07 L330.77 154.96 L331.06 154.86 L331.36 154.75 L331.66 154.65 L331.96 154.54 L332.26 154.44 L332.56 154.33 L332.86 154.23 L333.16 154.12 L333.46 154.02 L333.76 153.91 L334.06 153.81 L334.36 153.70 L334.66 153.60 L334.95 153.49 L335.25 153.39 L335.55 153.29 L335.85 153.18 L336.15 153.08 L336.45 152.97 L336.75 152.87 L337.05 152.77 L337.35 152.66 L337.65 152.56 L337.95 152.46 L338.25 152.35 L338.55 152.25 L338.85 152.15 L339.14 152.04 L339.44 151.94 L339.74 151.84 L340.04 151.74 L340.34 151.63 L340.64 151.53 L340.94 151.43 L341.24 151.33 L341.54 151.23 L341.84 151.12 L342.14 151.02 L342.44 150.92 L342.74 150.82 L343.03 150.72 L343.33 150.62 L343.63 150.51 L343.93 150.41 L344.23 150.31 L344.53 150.21 L344.83 150.11 L345.13 150.01 L345.43 149.91 L345.73 149.81 L346.03 149.71 L346.33 149.61 L346.63 149.51 L346.92 149.41 L347.22 149.31 L347.52 149.21 L347.82 149.11 L348.12 149.01 L348.42 148.91 L348.72 148.81 L349.02 148.71 L349.32 148.61 L349.62 148.51 L349.92 148.41 L350.22 148.31 L350.52 148.21 L350.82 148.11 L351.11 148.01 L351.41 147.91 L351.71 147.82 L352.01 147.72 L352.31 147.62 L352.61 147.52 L352.91 147.42 L353.21 147.32 L353.51 147.22 L353.81 147.13 L354.11 147.03 L354.41 146.93 L354.71 146.83 L355.00 146.73 L355.30 146.64 L355.60 146.54 L355.90 146.44 L356.20 146.34 L356.50 146.25 L356.80 146.15" stroke="#d95319" stroke-width="1.50" fill="none" stroke-dasharray="7.2 4.6" stroke-dashoffset="21.76"/>
<path d="M197.60 233.40 L199.21 228.81 L200.82 226.12 L202.42 223.86 L204.03 221.84 L205.64 219.99 L207.25 218.25 L208.86 216.61 L210.46 215.05 L212.07 213.55 L213.68 212.11 L215.29 210.71 L216.90 209.36 L218.51 208.04 L220.11 206.75 L221.72 205.50 L223.33 204.27 L224.94 203.07 L226.55 201.89 L228.15 200.74 L229.76 199.60 L231.37 198.48 L232.98 197.38 L234.59 196.30 L236.19 195.23 L237.80 194.18 L239.41 193.14 L241.02 192.11 L242.63 191.10 L244.23 190.10 L245.84 189.11 L247.45 188.13 L249.06 187.16 L250.67 186.21 L252.27 185.26 L253.88 184.32 L255.49 183.39 L257.10 182.46 L258.71 181.55 L260.32 180.65 L261.92 179.75 L263.53 178.86 L265.14 177.97 L266.75 177.10 L268.36 176.23 L269.96 175.36 L271.57 174.51 L273.18 173.66 L274.79 172.81 L276.40 171.97 L278.00 171.14 L279.61 170.31 L281.22 169.49 L282.83 168.68 L284.44 167.86 L286.04 167.06 L287.65 166.26 L289.26 165.46 L290.87 164.67 L292.48 163.88 L294.08 163.10 L295.69 162.32 L297.30 161.54 L298.91 160.77 L300.52 160.00 L302.13 159.24 L303.73 158.48 L305.34 157.73 L306.95 156.98 L308.56 156.23 L310.17 155.49 L311.77 154.75 L313.38 154.01 L314.99 153.28 L316.60 152.55 L318.21 151.82 L319.81 151.09 L321.42 150.37 L323.03 149.66 L324.64 148.94 L326.25 148.23 L327.85 147.52 L329.46 146.82 L331.07 146.12 L332.68 145.42 L334.29 144.72 L335.89 144.02 L337.50 143.33 L339.11 142.64 L340.72 141.96 L342.33 141.27 L343.94 140.59 L345.54 139.91 L347.15 139.24 L348.76 138.56 L350.37 137.89 L351.98 137.22 L353.58 136.56 L355.19 135.89 L356.80 135.23" stroke="#d95319" stroke-width="2.50" fill="none"/>
<circle cx="202.80" cy="230.84" r="2.80" stroke="#77ac30" stroke-width="1.35" fill="#77ac30" fill-opacity="1"/>
<circle cx="207.70" cy="228.95" r="2.80" stroke="#77ac30" stroke-width="1.35" fill="#77ac30" fill-opacity="1"/>
<circle cx="217.40" cy="226.43" r="2.80" stroke="#77ac30" stroke-width="1.35" fill="#77ac30" fill-opacity="1"/>
<circle cx="228.10" cy="224.11" r="2.80" stroke="#77ac30" stroke-width="1.35" fill="#77ac30" fill-opacity="1"/>
<circle cx="239.00" cy="222.01" r="2.80" stroke="#77ac30" stroke-width="1.35" fill="#77ac30" fill-opacity="1"/>
<circle cx="259.30" cy="218.53" r="2.80" stroke="#77ac30" stroke-width="1.35" fill="#77ac30" fill-opacity="1"/>
<circle cx="280.20" cy="215.54" r="2.80" stroke="#77ac30" stroke-width="1.35" fill="#77ac30" fill-opacity="1"/>
<circle cx="301.80" cy="212.52" r="2.80" stroke="#77ac30" stroke-width="1.35" fill="#77ac30" fill-opacity="1"/>
<circle cx="322.60" cy="209.80" r="2.80" stroke="#77ac30" stroke-width="1.35" fill="#77ac30" fill-opacity="1"/>
<rect x="206.00" y="223.70" width="5.20" height="5.20" fill="#0072bd" stroke="#0072bd" stroke-width="1.40"/>
<rect x="217.70" y="217.93" width="5.20" height="5.20" fill="#0072bd" stroke="#0072bd" stroke-width="1.40"/>
<rect x="229.40" y="213.12" width="5.20" height="5.20" fill="#0072bd" stroke="#0072bd" stroke-width="1.40"/>
<rect x="241.10" y="208.83" width="5.20" height="5.20" fill="#0072bd" stroke="#0072bd" stroke-width="1.40"/>
<rect x="251.20" y="205.42" width="5.20" height="5.20" fill="#0072bd" stroke="#0072bd" stroke-width="1.40"/>
<rect x="262.10" y="201.96" width="5.20" height="5.20" fill="#0072bd" stroke="#0072bd" stroke-width="1.40"/>
<rect x="271.40" y="199.16" width="5.20" height="5.20" fill="#0072bd" stroke="#0072bd" stroke-width="1.40"/>
<rect x="284.20" y="195.48" width="5.20" height="5.20" fill="#0072bd" stroke="#0072bd" stroke-width="1.40"/>
<rect x="307.60" y="189.17" width="5.20" height="5.20" fill="#0072bd" stroke="#0072bd" stroke-width="1.40"/>
<rect x="341.00" y="180.88" width="5.20" height="5.20" fill="#0072bd" stroke="#0072bd" stroke-width="1.40"/>
<path d="M199.90 225.68 V230.08 M197.90 225.68 H201.90 M197.90 230.08 H201.90" stroke="#d95319" stroke-width="1.20" fill="none"/>
<path d="M199.90 224.38 L202.30 227.88 L199.90 231.38 L197.50 227.88 Z" fill="#d95319" stroke="#d95319" stroke-width="1.40" stroke-linejoin="miter"/>
<path d="M205.70 218.02 V222.82 M203.70 218.02 H207.70 M203.70 222.82 H207.70" stroke="#d95319" stroke-width="1.20" fill="none"/>
<path d="M205.70 216.92 L208.10 220.42 L205.70 223.92 L203.30 220.42 Z" fill="#d95319" stroke="#d95319" stroke-width="1.40" stroke-linejoin="miter"/>
<path d="M208.30 214.77 V219.57 M206.30 214.77 H210.30 M206.30 219.57 H210.30" stroke="#d95319" stroke-width="1.20" fill="none"/>
<path d="M208.30 213.67 L210.70 217.17 L208.30 220.67 L205.90 217.17 Z" fill="#d95319" stroke="#d95319" stroke-width="1.40" stroke-linejoin="miter"/>
<path d="M212.90 210.40 V215.20 M210.90 210.40 H214.90 M210.90 215.20 H214.90" stroke="#d95319" stroke-width="1.20" fill="none"/>
<path d="M212.90 209.30 L215.30 212.80 L212.90 216.30 L210.50 212.80 Z" fill="#d95319" stroke="#d95319" stroke-width="1.40" stroke-linejoin="miter"/>
<path d="M220.00 206.84 V212.04 M218.00 206.84 H222.00 M218.00 212.04 H222.00" stroke="#d95319" stroke-width="1.20" fill="none"/>
<path d="M220.00 205.94 L222.40 209.44 L220.00 212.94 L217.60 209.44 Z" fill="#d95319" stroke="#d95319" stroke-width="1.40" stroke-linejoin="miter"/>
<path d="M231.00 196.44 V202.04 M229.00 196.44 H233.00 M229.00 202.04 H233.00" stroke="#d95319" stroke-width="1.20" fill="none"/>
<path d="M231.00 195.74 L233.40 199.24 L231.00 202.74 L228.60 199.24 Z" fill="#d95319" stroke="#d95319" stroke-width="1.40" stroke-linejoin="miter"/>
<path d="M242.30 189.71 V196.11 M239.70 189.71 H244.90 M239.70 196.11 H244.90" stroke="#d95319" stroke-width="1.20" fill="none"/>
<path d="M242.30 188.71 L245.40 192.91 L242.30 197.11 L239.20 192.91 Z" fill="#d95319" stroke="#d95319" stroke-width="1.40" stroke-linejoin="miter"/>
<path d="M253.20 183.11 V189.51 M250.60 183.11 H255.80 M250.60 189.51 H255.80" stroke="#d95319" stroke-width="1.20" fill="none"/>
<path d="M253.20 182.11 L256.30 186.31 L253.20 190.51 L250.10 186.31 Z" fill="#d95319" stroke="#d95319" stroke-width="1.40" stroke-linejoin="miter"/>
<path d="M264.70 176.81 V183.21 M262.10 176.81 H267.30 M262.10 183.21 H267.30" stroke="#d95319" stroke-width="1.20" fill="none"/>
<path d="M264.70 175.81 L267.80 180.01 L264.70 184.21 L261.60 180.01 Z" fill="#d95319" stroke="#d95319" stroke-width="1.40" stroke-linejoin="miter"/>
<path d="M273.60 171.84 V178.24 M271.00 171.84 H276.20 M271.00 178.24 H276.20" stroke="#d95319" stroke-width="1.20" fill="none"/>
<path d="M273.60 170.84 L276.70 175.04 L273.60 179.24 L270.50 175.04 Z" fill="#d95319" stroke="#d95319" stroke-width="1.40" stroke-linejoin="miter"/>
<path d="M287.30 164.73 V175.73 M284.70 164.73 H289.90 M284.70 175.73 H289.90" stroke="#d95319" stroke-width="1.20" fill="none"/>
<path d="M287.30 166.03 L290.40 170.23 L287.30 174.43 L284.20 170.23 Z" fill="#d95319" stroke="#d95319" stroke-width="1.40" stroke-linejoin="miter"/>
<path d="M310.10 151.12 V162.72 M307.50 151.12 H312.70 M307.50 162.72 H312.70" stroke="#d95319" stroke-width="1.20" fill="none"/>
<path d="M310.10 152.72 L313.20 156.92 L310.10 161.12 L307.00 156.92 Z" fill="#d95319" stroke="#d95319" stroke-width="1.40" stroke-linejoin="miter"/>
</g>
<path d="M197.60 134.80 V233.40 H356.80 V134.80 Z" fill="none" stroke="#343434" stroke-width="1"/>
<path d="M197.60 233.40 v-2.2 M197.60 134.80 v2.2 M277.20 233.40 v-2.2 M277.20 134.80 v2.2 M356.80 233.40 v-2.2 M356.80 134.80 v2.2 M197.60 233.40 h2.2 M356.80 233.40 h-2.2 M197.60 208.75 h2.2 M356.80 208.75 h-2.2 M197.60 184.10 h2.2 M356.80 184.10 h-2.2 M197.60 159.45 h2.2 M356.80 159.45 h-2.2 M197.60 134.80 h2.2 M356.80 134.80 h-2.2" stroke="#343434" stroke-width="1" fill="none"/>
<text x="197.60" y="244.60" fill="#444" font-size="12.5" text-anchor="middle">0</text>
<text x="277.20" y="244.60" fill="#444" font-size="12.5" text-anchor="middle">0.02</text>
<text x="355.50" y="244.60" fill="#444" font-size="12.5" text-anchor="middle">0.04</text>
<text x="194.60" y="237.90" fill="#444" font-size="12.5" text-anchor="end">0</text>
<text x="194.60" y="213.25" fill="#444" font-size="12.5" text-anchor="end">20</text>
<text x="194.60" y="188.60" fill="#444" font-size="12.5" text-anchor="end">40</text>
<text x="194.60" y="163.95" fill="#444" font-size="12.5" text-anchor="end">60</text>
<text x="276.30" y="259.00" fill="#444" class="s" font-family="Liberation Serif" font-style="italic" font-size="14.3" text-anchor="middle" letter-spacing="1.4">Ca</text>
<text transform="translate(173.00 182.00) rotate(-90)" fill="#444" class="s" font-family="Liberation Serif" font-size="14.3" text-anchor="middle"><tspan font-style="italic">h</tspan> (μm)</text>
</g></svg></body></html>
